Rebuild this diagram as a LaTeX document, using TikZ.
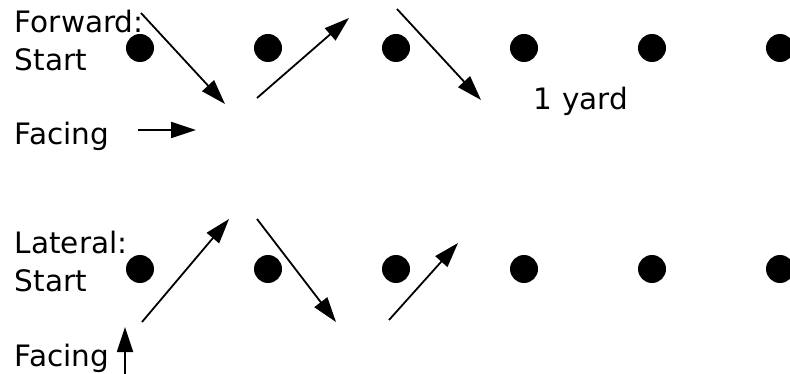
\documentclass[tikz,border=0pt]{standalone}
\usepackage{fontspec}
\setmainfont{DejaVu Sans}
\usetikzlibrary{arrows.meta}

\begin{document}
\begin{tikzpicture}[x=1pt,y=-1pt,>={Triangle[length=25pt,width=16pt]},line width=1.8pt,
  dot/.style={circle,fill,inner sep=0pt,minimum size=28pt},
  lbl/.style={anchor=base west,inner sep=0pt,font=\fontsize{29.5}{34}\selectfont}]
\useasboundingbox (0,0) rectangle (790,374);
% cones, two rows
\foreach \i/\x in {1/140,2/268,3/396,4/524,5/652,6/780}{
  \node[dot] (f\i) at (\x,48) {};
  \node[dot] (l\i) at (\x,269) {};
}
% forward row
\node[lbl] (fwd) at (14,33) {Forward:};
\node[lbl] (fstart) at (14,71) {Start};
\node[lbl] (fface) at (14,145) {Facing};
\node[lbl] (yard) at (533,110) {1 yard};
\coordinate (fa0) at (141,13);  \coordinate (fa1) at (225,104);
\coordinate (fb0) at (257,98);  \coordinate (fb1) at (349,18);
\coordinate (fc0) at (397,9);   \coordinate (fc1) at (481,100);
\coordinate (fd0) at (138,130); \coordinate (fd1) at (196,130);
\draw[->] (fa0) -- (fa1);
\draw[->] (fb0) -- (fb1);
\draw[->] (fc0) -- (fc1);
\draw[->] (fd0) -- (fd1);
% lateral row
\node[lbl] (lat) at (14,254) {Lateral:};
\node[lbl] (lstart) at (14,291) {Start};
\node[lbl] (lface) at (14,366) {Facing};
\coordinate (la0) at (142,322); \coordinate (la1) at (229,219);
\coordinate (lb0) at (257,219); \coordinate (lb1) at (336,322);
\coordinate (lc0) at (389,320); \coordinate (lc1) at (458,243);
\coordinate (ld0) at (125,374); \coordinate (ld1) at (125,327);
\draw[->] (la0) -- (la1);
\draw[->] (lb0) -- (lb1);
\draw[->] (lc0) -- (lc1);
\draw[->] (ld0) -- (ld1);
\end{tikzpicture}
\end{document}
